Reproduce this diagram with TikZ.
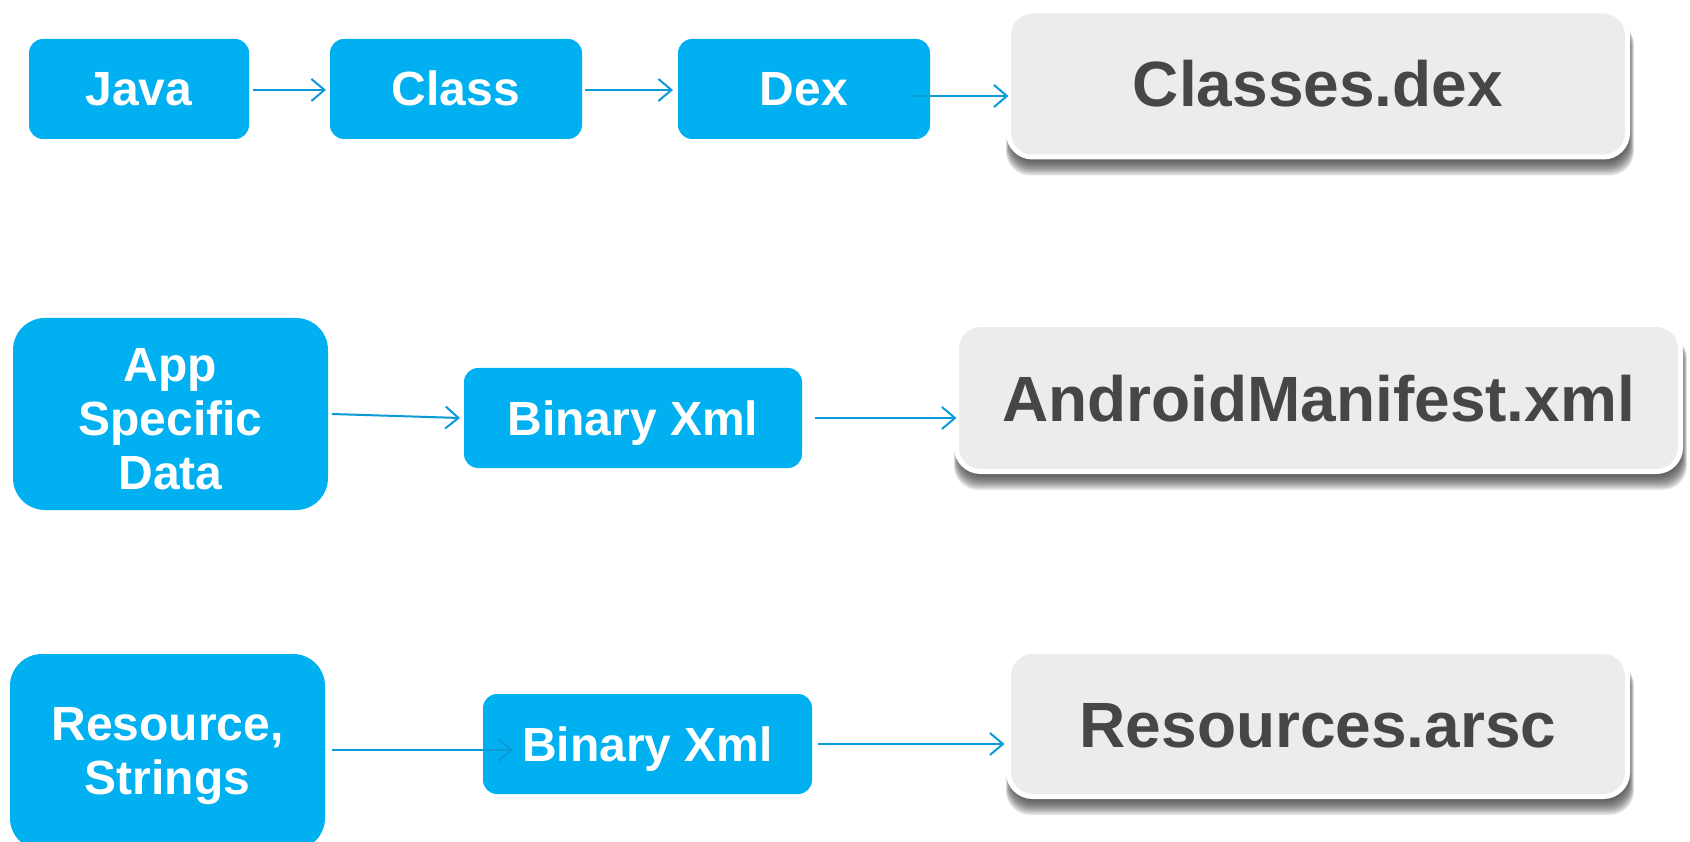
\documentclass[tikz,border=0pt]{standalone}
\usepackage{fontspec}
\setmainfont{Liberation Sans}
\usetikzlibrary{arrows.meta,backgrounds}
\definecolor{boxblue}{HTML}{00B0F0}
\definecolor{arrblue}{HTML}{0A9AD8}
\definecolor{boxgray}{HTML}{ECECEC}
\definecolor{txtgray}{HTML}{464646}
\begin{document}
\begin{tikzpicture}[x=1pt,y=-1pt,
  bluebox/.style={fill=boxblue, rounded corners=14pt, inner sep=0pt, outer sep=0pt,
    text=white, font=\fontsize{48}{54}\selectfont\bfseries, align=center},
  oneline/.style={text height=34pt, text depth=0pt},
  bigblue/.style={bluebox, rounded corners=32pt},
  bluetext/.style={inner sep=0pt, text=white, font=\fontsize{48}{54}\selectfont\bfseries, align=center},
  graybox/.style={fill=boxgray, draw=white, line width=5pt, rounded corners=24pt,
    inner sep=0pt, outer sep=0pt, text=txtgray, text height=46pt, text depth=0pt,
    font=\fontsize{64}{70}\selectfont\bfseries},
  arr/.style={draw=arrblue, line width=2pt,
    -{Straight Barb[length=13pt,width=22pt,line width=2pt]}},
]
\useasboundingbox (0,0) rectangle (1690,842);

% row 1
\node[bluebox, oneline, minimum width=220pt, minimum height=100pt] (java) at (139,89) {Java};
\node[bluebox, oneline, minimum width=252pt, minimum height=100pt] (class) at (456,89) {Class};
\node[bluebox, oneline, minimum width=252pt, minimum height=100pt] (dex) at (804,89) {Dex};
\node[graybox, minimum width=619pt, minimum height=146pt] (cd) at (1318,84) {Classes.dex};

% row 2
\node[bigblue, minimum width=315pt, minimum height=192pt] (app) at (170.5,414) {};
\node[bluetext] (apptxt) at ([yshift=-5pt]app.center) {App\\Specific\\Data};
\node[bluebox, oneline, minimum width=338pt, minimum height=100pt] (bin1) at (633,418) {Binary Xml};
\node[graybox, minimum width=724pt, minimum height=147pt] (am) at (1318.5,398) {AndroidManifest.xml};

% row 3
\node[bigblue, minimum width=315pt, minimum height=196pt] (res) at (167.5,752) {};
\node[bluetext] (restxt) at ([yshift=-4pt]res.center) {Resource,\\Strings};
\node[bluebox, oneline, minimum width=329pt, minimum height=100pt] (bin2) at (647.5,744) {Binary Xml};
\node[graybox, minimum width=619pt, minimum height=145pt] (ra) at (1318,724) {Resources.arsc};

% shadows and background
\begin{scope}[on background layer]
  \fill[white] (0,0) rectangle (1690,842);
  \foreach \n in {cd,am,ra}{
    \foreach \e in {0,...,9}{
      \fill[black!80, opacity=0.13, rounded corners=24pt]
        ([xshift={(2-0.5*\e)*1pt}, yshift=-10pt]\n.north west) rectangle
        ([xshift={(1+0.6*\e)*1pt}, yshift={(-4-1.6*\e)*1pt}]\n.south east);
    }
  }
\end{scope}

% connectors
\draw[arr] ([xshift=4pt,yshift=-1pt]java.east) -- ([xshift=-4pt,yshift=-1pt]class.west);
\draw[arr] ([xshift=3pt,yshift=-1pt]class.east) -- ([xshift=-5pt,yshift=-1pt]dex.west);
\coordinate (d0) at ([xshift=-18pt,yshift=-7pt]dex.east);
\draw[arr] (d0) -- (d0 -| cd.west);

\draw[arr] ([xshift=4pt]app.east) -- ([xshift=-4pt]bin1.west);
\coordinate (b0) at ([xshift=13pt]bin1.east);
\draw[arr] (b0) -- (b0 -| am.west);

\coordinate (r0) at ([xshift=7pt,yshift=2pt]res.east);
\coordinate (r1) at ([xshift=30pt]bin2.west);
\draw[arr] (r0) -- (r1 |- r0);
\coordinate (s0) at ([xshift=6pt]bin2.east);
\draw[arr, shorten >=4pt] (s0) -- (s0 -| ra.west);
\end{tikzpicture}
\end{document}
